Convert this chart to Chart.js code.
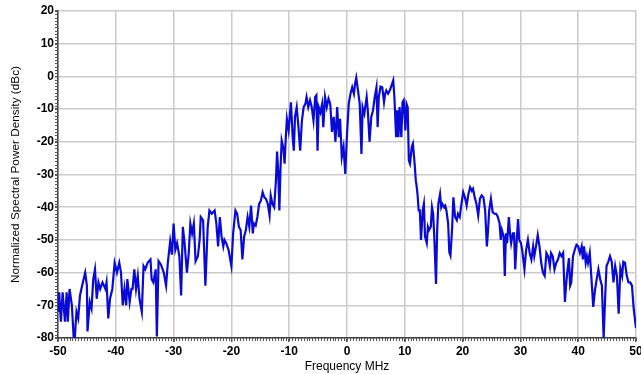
<!DOCTYPE html>
<html>
<head>
<meta charset="utf-8">
<script src="https://cdn.jsdelivr.net/npm/chart.js@4.4.1/dist/chart.umd.min.js"></script>
<style>
  html, body { margin: 0; padding: 0; background: #fff; }
</style>
</head>
<body>
<canvas id="psd" width="641" height="374"></canvas>
<script>
// frequency offsets (MHz) and normalized PSD (dBc)
var freqMHz = [
  -50.0,-49.8,-49.5,-49.2,-48.8,-48.5,-48.3,-48.0,-47.6,-47.3,
  -47.1,-46.8,-46.5,-46.2,-45.7,-45.3,-45.0,-44.9,-44.5,-44.2,
  -43.9,-43.6,-43.3,-43.0,-42.7,-42.3,-41.8,-41.6,-41.3,-41.0,
  -40.6,-40.2,-39.8,-39.4,-39.1,-38.8,-38.5,-38.2,-38.0,-37.6,
  -37.3,-37.1,-36.8,-36.5,-36.2,-35.9,-35.5,-35.2,-34.9,-34.5,
  -34.0,-33.8,-33.5,-33.1,-32.9,-32.6,-32.2,-31.7,-31.3,-31.0,
  -30.6,-30.3,-30.0,-29.7,-29.4,-29.0,-28.7,-28.4,-28.1,-27.7,
  -27.4,-27.1,-26.8,-26.5,-26.2,-25.8,-25.5,-25.3,-24.9,-24.5,
  -24.1,-23.8,-23.4,-22.9,-22.6,-22.3,-22.0,-21.7,-21.4,-21.2,
  -20.9,-20.5,-20.0,-19.7,-19.3,-19.0,-18.7,-18.4,-18.1,-17.8,
  -17.5,-17.2,-16.9,-16.6,-16.3,-16.1,-15.8,-15.5,-15.2,-14.9,
  -14.6,-14.3,-14.0,-13.7,-13.4,-13.2,-12.9,-12.6,-12.3,-12.1,
  -11.9,-11.7,-11.5,-11.3,-11.0,-10.8,-10.6,-10.4,-10.1,-9.9,
  -9.7,-9.4,-9.2,-9.0,-8.7,-8.4,-8.1,-7.8,-7.5,-7.2,
  -7.0,-6.7,-6.4,-6.1,-5.8,-5.5,-5.3,-5.1,-4.9,-4.6,
  -4.3,-4.1,-3.8,-3.5,-3.2,-2.9,-2.6,-2.3,-2.0,-1.7,
  -1.4,-1.2,-0.9,-0.6,-0.3,0.0,0.3,0.6,0.9,1.2,
  1.4,1.6,1.9,2.2,2.5,2.7,3.0,3.4,3.6,3.9,
  4.2,4.5,4.8,5.1,5.3,5.5,5.8,6.1,6.4,6.6,
  6.8,7.1,7.4,7.7,8.0,8.2,8.5,8.7,8.9,9.1,
  9.4,9.6,9.8,10.1,10.3,10.5,10.7,10.9,11.2,11.4,
  11.7,11.9,12.0,12.2,12.4,12.6,12.8,13.1,13.3,13.5,
  13.8,14.0,14.2,14.5,14.7,14.9,15.1,15.4,15.6,15.8,
  16.1,16.3,16.5,16.8,17.0,17.2,17.5,17.7,17.9,18.2,
  18.4,18.7,19.0,19.2,19.5,19.8,20.1,20.4,20.7,21.0,
  21.3,21.6,21.8,22.1,22.4,22.7,23.0,23.3,23.6,23.9,
  24.2,24.4,24.6,24.9,25.2,25.5,25.8,26.1,26.4,26.6,
  26.8,27.1,27.3,27.5,27.7,28.0,28.2,28.4,28.7,28.9,
  29.1,29.4,29.6,29.8,30.1,30.3,30.7,31.0,31.3,31.6,
  31.9,32.2,32.4,32.7,33.0,33.3,33.6,33.9,34.2,34.5,
  34.8,35.1,35.3,35.6,35.9,36.2,36.5,36.8,37.1,37.4,
  37.7,37.9,38.1,38.4,38.6,38.8,39.1,39.4,39.7,40.0,
  40.3,40.6,40.8,41.0,41.3,41.5,41.7,42.0,42.3,42.6,
  42.9,43.2,43.5,43.8,44.1,44.4,44.7,44.9,45.2,45.5,
  45.8,46.1,46.4,46.7,47.0,47.3,47.6,47.8,48.1,48.4,
  48.7,49.0,49.3,49.6,50.0
];

var psdDbc = [
  -72,-66,-75,-66,-75,-66,-75,-65,-70,-79.5,
  -80,-72,-74,-67,-63,-60,-64,-78,-69,-71,
  -62,-59,-68,-63,-65,-63,-65,-63,-74,-68,
  -65,-57,-60,-57,-60,-70,-65,-70,-62,-69,
  -65,-65,-59,-65,-61,-68,-72,-58,-59,-57,
  -56,-62,-63,-59,-79.5,-56.5,-57.5,-60,-64,-57,
  -50.5,-54.5,-45,-53,-51,-55,-67,-46,-51,-60,
  -54.5,-45,-48,-45,-56.5,-55,-50,-43,-44,-64,
  -46,-41,-42,-41,-45,-52,-43,-49,-52,-50,
  -51,-53,-58,-48,-41,-42,-46,-47,-56,-49,
  -47,-43,-46,-39.5,-48,-45,-45.6,-43,-39,-38,
  -35.4,-37,-37.5,-39,-42.5,-36.4,-39,-40,-32,-23,
  -29,-41,-28,-19.6,-22,-26.7,-19,-13,-16.5,-12.4,
  -7.9,-18.6,-22.7,-12.4,-9.4,-15.5,-22.7,-13.5,-9.4,-8.4,
  -6.3,-9.4,-7.3,-9.4,-13.5,-6.3,-5.8,-22.7,-9.4,-11,
  -8.4,-15.5,-6.3,-9.4,-6.8,-8.4,-17,-12.4,-20,-9.4,
  -18.6,-13,-24.7,-21.6,-29.8,-17.6,-8.4,-5.3,-3.3,-5.3,
  -2.2,-0.4,-4.3,-8.4,-23.7,-9.4,-11.4,-6.3,-10.4,-20,
  -12.4,-10.4,-6.3,-3.3,-15.5,-6.3,-3.1,-3.3,-7.9,-5.3,
  -4.3,-5.3,-4.3,-2.8,-1.2,-6.3,-18.6,-10.4,-18.6,-9.4,
  -18.6,-7.9,-7.3,-16.5,-8.4,-9.4,-25.7,-26.7,-21.6,-20.6,
  -26.7,-31.8,-32.9,-36,-41,-41,-50,-41,-39,-49,
  -51,-46,-47,-46,-40,-42,-49,-63.5,-47,-39,
  -36,-40,-39,-40,-39.5,-41,-45,-53.8,-54.8,-46,
  -37,-43,-44,-42,-43,-39,-35.4,-37,-39.5,-36,
  -33.9,-35,-34.4,-37,-39,-42.6,-37.4,-36.4,-37,-41,
  -52,-47,-41,-37.4,-41.5,-42,-42,-43,-45,-50,
  -47,-49,-61,-48,-51,-43,-48,-51,-48,-48,
  -59,-49,-43.6,-50,-51,-53,-59,-53,-50,-54,
  -56,-52,-55,-52,-48.5,-52,-57,-60,-61,-54,
  -55,-58,-54,-55,-59,-57,-56,-54,-55,-54,
  -69,-64,-60,-55.6,-64,-63,-55,-53,-51.5,-52,
  -54,-52,-56,-52,-57,-55,-57,-54,-62,-70.5,
  -65.4,-62,-59,-62,-64,-80,-66,-58,-56.7,-55,
  -56.7,-63,-58,-61,-72.6,-58.7,-61,-56.7,-57,-61,
  -63,-63,-64,-71,-77
];

var xRange = [-50, 50];
var yRange = [-80, 20];
var xTitle = 'Frequency MHz';
var yTitle = 'Normalized Spectral Power Density (dBc)';

var fam = "'Liberation Sans', Arial, Helvetica, sans-serif";

var points = [];
var n = Math.min(freqMHz.length, psdDbc.length);
for (var i = 0; i < n; i++) points.push({x: freqMHz[i], y: psdDbc[i]});

// little dotted ticks along the left and bottom axes
var minorTicks = {
  id: 'minorTicks',
  afterDraw: function(chart) {
    var ctx = chart.ctx, a = chart.chartArea;
    var xs = chart.scales.x, ys = chart.scales.y;
    ctx.save();
    ctx.strokeStyle = '#555';
    ctx.lineWidth = 1;
    ctx.beginPath();
    for (var v = xRange[0]; v <= xRange[1]; v += 0.5) {
      var px = Math.round(xs.getPixelForValue(v)) + 0.5;
      ctx.moveTo(px, a.bottom);
      ctx.lineTo(px, a.bottom + 3);
    }
    for (var w = yRange[0]; w <= yRange[1]; w += 1) {
      var py = Math.round(ys.getPixelForValue(w)) + 0.5;
      ctx.moveTo(a.left - 3, py);
      ctx.lineTo(a.left, py);
    }
    ctx.stroke();
    ctx.restore();
  }
};

new Chart(document.getElementById('psd').getContext('2d'), {
  type: 'line',
  data: {
    datasets: [{
      data: points,
      borderColor: '#0a0ad8',
      borderWidth: 2.2,
      pointRadius: 0,
      tension: 0,
      fill: false
    }]
  },
  options: {
    responsive: false,
    animation: false,
    layout: {padding: {left: 0, right: 5, top: 11, bottom: 0}},
    plugins: {legend: {display: false}, tooltip: {enabled: false}},
    scales: {
      x: {
        type: 'linear',
        min: xRange[0],
        max: xRange[1],
        ticks: {stepSize: 10, color: '#000', padding: 2, maxRotation: 0, autoSkip: false,
                font: {family: fam, size: 12, weight: 'bold'}},
        grid: {color: '#cbcbcb', lineWidth: 1.5, tickLength: 4, tickColor: '#555'},
        border: {color: '#444', width: 1.5},
        title: {display: true, text: xTitle, color: '#000',
                font: {family: fam, size: 12}, padding: {top: 0, bottom: 0}},
        afterFit: function(s) { s.height = 36; s.paddingLeft = 0; s.paddingRight = 0; }
      },
      y: {
        min: yRange[0],
        max: yRange[1],
        ticks: {stepSize: 10, color: '#000', padding: 1,
                font: {family: fam, size: 12, weight: 'bold'}},
        grid: {color: '#cbcbcb', lineWidth: 1.5, tickLength: 3, tickColor: '#555'},
        border: {color: '#444', width: 1.5},
        title: {display: true, text: yTitle, color: '#000',
                font: {family: fam, size: 11.8}, padding: {top: 9, bottom: 0}},
        afterFit: function(s) { s.width = 58; s.paddingTop = 0; s.paddingBottom = 0; }
      }
    }
  },
  plugins: [minorTicks]
});
</script>
</body>
</html>
